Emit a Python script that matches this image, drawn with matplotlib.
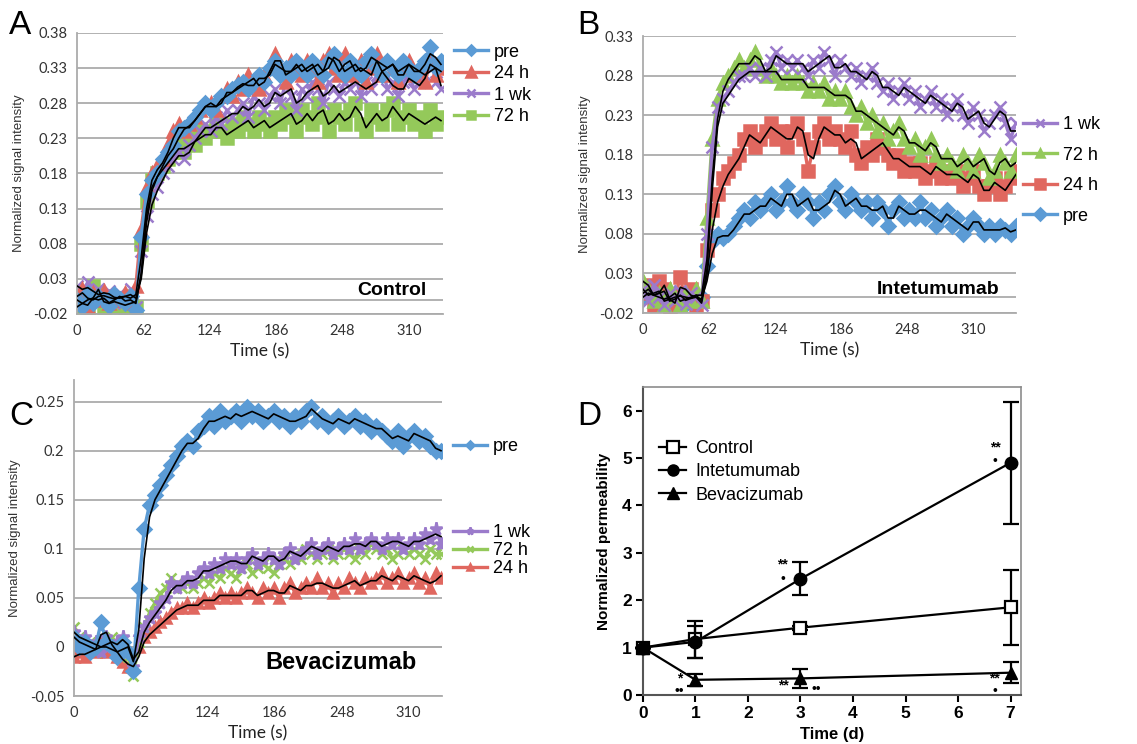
import numpy as np
import pandas as pd
import matplotlib
matplotlib.use('Agg')
import matplotlib.pyplot as plt
from matplotlib.lines import Line2D

plt.rcParams['font.family'] = ['Liberation Sans', 'DejaVu Sans']

STEP = 5  # seconds between samples

# ---- Panel A: Control ----
a_pre = [0.000, -0.010, 0.010, -0.005, 0.005, 0.000, -0.008, 0.008, 0.002, -0.005, 0.005, -0.015,
         0.09, 0.15, 0.17, 0.18, 0.20, 0.21, 0.22, 0.24, 0.245, 0.25,
         0.26, 0.27, 0.28, 0.27, 0.28, 0.29, 0.29, 0.30, 0.305, 0.31,
         0.30, 0.31, 0.32, 0.31, 0.33, 0.34, 0.32, 0.33, 0.32, 0.34,
         0.33, 0.32, 0.34, 0.33, 0.32, 0.34, 0.35, 0.33, 0.32, 0.34,
         0.33, 0.32, 0.34, 0.35, 0.33, 0.32, 0.34, 0.33, 0.32, 0.34,
         0.33, 0.32, 0.33, 0.34, 0.36, 0.33, 0.34]
a_24h = [0.005, 0.015, -0.010, 0.010, 0.000, 0.012, -0.005, 0.008, 0.000, 0.010, -0.005, 0.020,
         0.10, 0.16, 0.18, 0.19, 0.20, 0.22, 0.24, 0.25, 0.24, 0.25,
         0.26, 0.27, 0.28, 0.28, 0.27, 0.29, 0.30, 0.29, 0.31, 0.30,
         0.32, 0.31, 0.30, 0.32, 0.33, 0.35, 0.33, 0.31, 0.34, 0.33,
         0.32, 0.34, 0.33, 0.31, 0.34, 0.35, 0.33, 0.32, 0.35, 0.33,
         0.32, 0.34, 0.31, 0.33, 0.35, 0.32, 0.34, 0.33, 0.31, 0.33,
         0.34, 0.32, 0.33, 0.31, 0.34, 0.32, 0.33]
a_1wk = [0.020, 0.010, 0.025, 0.000, 0.015, 0.005, 0.012, -0.005, 0.010, 0.000, 0.015, -0.010,
         0.07, 0.12, 0.15, 0.16, 0.18, 0.19, 0.20, 0.21, 0.20, 0.22,
         0.23, 0.24, 0.25, 0.24, 0.26, 0.25, 0.27, 0.26, 0.27, 0.28,
         0.26, 0.29, 0.28, 0.27, 0.29, 0.30, 0.28, 0.31, 0.29, 0.27,
         0.30, 0.29, 0.31, 0.30, 0.28, 0.31, 0.30, 0.29, 0.31, 0.30,
         0.32, 0.29, 0.31, 0.30, 0.32, 0.33, 0.30, 0.31, 0.29, 0.31,
         0.32, 0.30, 0.31, 0.32, 0.35, 0.31, 0.30]
a_72h = [-0.010, 0.000, -0.015, 0.020, 0.010, -0.015, 0.005, -0.010, 0.000, -0.015, 0.005, -0.010,
         0.08, 0.14, 0.17, 0.18, 0.19, 0.20, 0.21, 0.22, 0.21, 0.23,
         0.22, 0.24, 0.23, 0.24, 0.25, 0.24, 0.23, 0.25, 0.24, 0.26,
         0.25, 0.24, 0.26, 0.25, 0.24, 0.26, 0.25, 0.27, 0.26, 0.24,
         0.27, 0.26, 0.25, 0.28, 0.26, 0.24, 0.27, 0.26, 0.25, 0.27,
         0.28, 0.25, 0.24, 0.27, 0.26, 0.25, 0.27, 0.28, 0.25, 0.26,
         0.27, 0.25, 0.26, 0.24, 0.27, 0.25, 0.26]

# ---- Panel B: Intetumumab ----
b_1wk = [0.010, -0.005, 0.015, 0.000, -0.010, 0.005, -0.005, 0.008, -0.008, 0.005, 0.000, -0.010,
         0.08, 0.19, 0.24, 0.25, 0.26, 0.27, 0.28, 0.28, 0.29, 0.28,
         0.29, 0.28, 0.30, 0.31, 0.29, 0.30, 0.29, 0.30, 0.29, 0.28,
         0.30, 0.29, 0.31, 0.30, 0.28, 0.30, 0.29, 0.28, 0.29, 0.27,
         0.28, 0.29, 0.27, 0.26, 0.27, 0.25, 0.26, 0.27, 0.25, 0.26,
         0.24, 0.25, 0.26, 0.24, 0.25, 0.23, 0.24, 0.25, 0.23, 0.22,
         0.24, 0.23, 0.21, 0.22, 0.23, 0.24, 0.22, 0.20, 0.22]
b_72h = [0.020, 0.010, -0.005, 0.005, -0.010, 0.010, 0.000, -0.010, 0.005, -0.005, 0.010, -0.005,
         0.10, 0.20, 0.25, 0.27, 0.28, 0.29, 0.30, 0.29, 0.30, 0.31,
         0.29, 0.28, 0.29, 0.28, 0.27, 0.28, 0.27, 0.28, 0.27, 0.26,
         0.27, 0.26, 0.27, 0.25, 0.26, 0.25, 0.26, 0.24, 0.23, 0.24,
         0.22, 0.23, 0.21, 0.22, 0.20, 0.21, 0.22, 0.20, 0.19, 0.20,
         0.18, 0.19, 0.20, 0.18, 0.17, 0.18, 0.17, 0.16, 0.18, 0.17,
         0.16, 0.18, 0.17, 0.15, 0.16, 0.18, 0.17, 0.16, 0.18]
b_24h = [0.005, 0.015, -0.010, 0.020, 0.010, -0.015, 0.000, 0.025, -0.005, 0.010, -0.010, -0.005,
         0.06, 0.11, 0.13, 0.15, 0.16, 0.17, 0.18, 0.20, 0.21, 0.19,
         0.20, 0.21, 0.22, 0.20, 0.21, 0.19, 0.21, 0.22, 0.20, 0.16,
         0.19, 0.21, 0.22, 0.20, 0.21, 0.20, 0.19, 0.21, 0.18, 0.17,
         0.19, 0.18, 0.20, 0.19, 0.18, 0.17, 0.18, 0.16, 0.17, 0.16,
         0.17, 0.15, 0.16, 0.17, 0.15, 0.16, 0.15, 0.16, 0.14, 0.15,
         0.16, 0.14, 0.13, 0.14, 0.15, 0.13, 0.14, 0.15, 0.16]
b_pre = [0.000, 0.010, -0.005, 0.015, 0.000, -0.010, 0.005, 0.000, -0.008, 0.005, -0.005, 0.000,
         0.04, 0.07, 0.08, 0.075, 0.08, 0.09, 0.10, 0.11, 0.10, 0.12,
         0.11, 0.12, 0.13, 0.11, 0.12, 0.14, 0.12, 0.11, 0.13, 0.12,
         0.10, 0.12, 0.11, 0.13, 0.14, 0.12, 0.11, 0.13, 0.12, 0.11,
         0.12, 0.10, 0.12, 0.11, 0.09, 0.11, 0.12, 0.10, 0.11, 0.10,
         0.12, 0.10, 0.11, 0.09, 0.10, 0.11, 0.09, 0.10, 0.08, 0.09,
         0.10, 0.09, 0.08, 0.09, 0.08, 0.09, 0.085, 0.08, 0.09]

# ---- Panel C: Bevacizumab ----
c_pre = [0.010, 0.000, 0.005, -0.005, 0.000, 0.025, 0.005, 0.000, -0.010, 0.005, -0.005, -0.025,
         0.06, 0.12, 0.145, 0.155, 0.165, 0.175, 0.185, 0.195, 0.205, 0.21,
         0.205, 0.22, 0.225, 0.235, 0.225, 0.24, 0.23, 0.235, 0.24, 0.23,
         0.245, 0.235, 0.24, 0.23, 0.235, 0.24, 0.23, 0.235, 0.225, 0.235,
         0.23, 0.24, 0.245, 0.23, 0.235, 0.225, 0.23, 0.235, 0.225, 0.23,
         0.235, 0.225, 0.23, 0.22, 0.225, 0.22, 0.215, 0.21, 0.22, 0.205,
         0.215, 0.22, 0.21, 0.215, 0.205, 0.20, 0.20]
c_1wk = [0.015, 0.005, 0.010, 0.000, 0.005, -0.005, 0.010, 0.000, 0.005, 0.010, -0.005, -0.020,
         0.010, 0.020, 0.030, 0.035, 0.045, 0.050, 0.065, 0.060, 0.065, 0.070,
         0.065, 0.075, 0.080, 0.075, 0.085, 0.080, 0.090, 0.085, 0.090, 0.080,
         0.090, 0.095, 0.085, 0.090, 0.095, 0.090, 0.085, 0.095, 0.100, 0.090,
         0.095, 0.100, 0.105, 0.095, 0.100, 0.105, 0.095, 0.100, 0.105, 0.100,
         0.110, 0.100, 0.105, 0.110, 0.105, 0.100, 0.110, 0.105, 0.110, 0.100,
         0.105, 0.110, 0.105, 0.115, 0.110, 0.120, 0.105]
c_72h = [0.020, 0.010, 0.000, 0.005, -0.005, 0.005, 0.000, 0.010, -0.005, 0.000, -0.010, -0.030,
         0.005, 0.020, 0.035, 0.045, 0.055, 0.060, 0.070, 0.065, 0.060, 0.065,
         0.060, 0.065, 0.070, 0.065, 0.075, 0.070, 0.080, 0.075, 0.070, 0.080,
         0.085, 0.075, 0.080, 0.085, 0.080, 0.075, 0.085, 0.090, 0.085, 0.095,
         0.090, 0.100, 0.095, 0.090, 0.095, 0.100, 0.090, 0.095, 0.100, 0.095,
         0.090, 0.100, 0.095, 0.105, 0.100, 0.095, 0.100, 0.090, 0.095, 0.100,
         0.095, 0.100, 0.095, 0.090, 0.100, 0.095, 0.095]
c_24h = [-0.010, -0.005, -0.010, 0.000, -0.005, 0.005, -0.005, 0.000, -0.010, -0.015, -0.020, -0.020,
         0.000, 0.010, 0.015, 0.020, 0.025, 0.030, 0.035, 0.040, 0.040, 0.045,
         0.040, 0.045, 0.050, 0.045, 0.050, 0.055, 0.050, 0.055, 0.050, 0.055,
         0.060, 0.055, 0.050, 0.060, 0.055, 0.060, 0.050, 0.060, 0.065, 0.055,
         0.060, 0.065, 0.060, 0.070, 0.060, 0.065, 0.055, 0.065, 0.060, 0.070,
         0.065, 0.060, 0.070, 0.065, 0.070, 0.075, 0.065, 0.070, 0.075, 0.065,
         0.070, 0.075, 0.065, 0.070, 0.060, 0.075, 0.070]

# ---- Panel D: permeability ----
days = [0, 1, 3, 7]
ctrl_mean = [1.0, 1.18, 1.42, 1.85]
ctrl_err = [0.0, 0.39, 0.04, 0.79]
inte_mean = [1.0, 1.12, 2.45, 4.90]
inte_err = [0.0, 0.33, 0.35, 1.29]
beva_mean = [1.0, 0.32, 0.35, 0.47]
beva_err = [0.0, 0.13, 0.20, 0.22]

BLUE = '#5B9BD5'
RED = '#E0675F'
PURPLE = '#9B7BCB'
GREEN = '#94C95A'
GRID = '#ABABAB'
TICKFONT = ['Lato', 'DejaVu Sans']


def draw_traces(ax, series, smoothed):
    for label, vals, color, marker, ms in series:
        t = np.arange(len(vals)) * STEP
        ax.plot(t, vals, color=color, marker=marker, ms=ms, lw=2.4,
                mec=color, mew=1.8, label=label, zorder=2)
    for vals in smoothed:
        t = np.arange(len(vals)) * STEP
        sm = pd.Series(vals).rolling(2, min_periods=1).mean()
        ax.plot(t, sm, color='black', lw=1.2, zorder=3)


def style_excel(ax, ylim, yticks, ylabels, xmax, tag):
    ax.set_xlim(0, xmax)
    ax.set_ylim(*ylim)
    ax.set_yticks(yticks)
    ax.set_yticklabels(ylabels, family=TICKFONT)
    ax.set_xticks([0, 62, 124, 186, 248, 310])
    ax.set_xticklabels(['0', '62', '124', '186', '248', '310'], family=TICKFONT)
    ax.grid(axis='y', color=GRID, lw=1.3)
    ax.set_axisbelow(True)
    ax.axhline(0, color=GRID, lw=1.3, zorder=0)
    for s in ['top', 'right']:
        ax.spines[s].set_visible(False)
    for s in ['left', 'bottom']:
        ax.spines[s].set_color(GRID)
        ax.spines[s].set_linewidth(1.3)
    ax.tick_params(length=0, labelsize=10.5, colors='#333333', pad=7)
    ax.set_xlabel('Time (s)', family=TICKFONT, fontsize=12.5, color='#222222', labelpad=4)
    ax.set_ylabel('Normalized signal intensity', fontsize=9.5, color='#333333', labelpad=6)
    ax.text(0.955, 0.055, tag, transform=ax.transAxes, ha='right', va='bottom',
            fontsize=14, fontweight='bold')


fig = plt.figure(figsize=(11.37, 7.44), dpi=100)

# A
axA = fig.add_axes([0.0677, 0.578, 0.322, 0.378])
draw_traces(axA, [('72 h', a_72h, GREEN, 's', 8),
                  ('1 wk', a_1wk, PURPLE, 'x', 8),
                  ('24 h', a_24h, RED, '^', 8.5),
                  ('pre', a_pre, BLUE, 'D', 7)],
            [a_72h, a_1wk, a_pre, a_24h])
style_excel(axA, (-0.02, 0.38), np.arange(-0.02, 0.381, 0.05),
            ['-0.02', '0.03', '0.08', '0.13', '0.18', '0.23', '0.28', '0.33', '0.38'], 342, 'Control')
h, l = axA.get_legend_handles_labels()
order = [3, 2, 1, 0]
axA.legend([h[i] for i in order], [l[i] for i in order], loc='upper left',
           bbox_to_anchor=(1.0, 1.0), frameon=False, fontsize=13, labelspacing=0.25,
           handlelength=1.9, handletextpad=0.3, borderaxespad=0.2, markerscale=0.8)

# B
axB = fig.add_axes([0.5655, 0.5793, 0.328, 0.3723])
draw_traces(axB, [('pre', b_pre, BLUE, 'D', 7.5),
                  ('24 h', b_24h, RED, 's', 9),
                  ('72 h', b_72h, GREEN, '^', 8.5),
                  ('1 wk', b_1wk, PURPLE, 'x', 8.5)],
            [b_pre, b_24h, b_72h, b_1wk])
style_excel(axB, (-0.02, 0.33), np.arange(-0.02, 0.331, 0.05),
            ['-0.02', '0.03', '0.08', '0.13', '0.18', '0.23', '0.28', '0.33'], 350, 'Intetumumab')
h, l = axB.get_legend_handles_labels()
axB.legend(h[::-1], l[::-1], loc='upper left', bbox_to_anchor=(0.99, 0.75),
           frameon=False, fontsize=13, labelspacing=0.75,
           handlelength=1.9, handletextpad=0.3, borderaxespad=0.2, markerscale=0.75)

# C
axC = fig.add_axes([0.0651, 0.0645, 0.3237, 0.4247])
draw_traces(axC, [('24 h', c_24h, RED, '^', 7.5),
                  ('72 h', c_72h, GREEN, 'x', 7),
                  ('1 wk', c_1wk, PURPLE, '*', 9.5),
                  ('pre', c_pre, BLUE, 'D', 7)],
            [c_24h, c_1wk, c_pre])
style_excel(axC, (-0.05, 0.272), np.arange(-0.05, 0.251, 0.05),
            ['-0.05', '0', '0.05', '0.1', '0.15', '0.2', '0.25'], 341, '')
axC.text(0.93, 0.07, 'Bevacizumab', transform=axC.transAxes, ha='right', va='bottom',
         fontsize=17, fontweight='bold')
h, l = axC.get_legend_handles_labels()
leg1 = axC.legend([h[3]], [l[3]], loc='center left', bbox_to_anchor=(1.0, 0.79),
                  frameon=False, fontsize=13, handlelength=1.9, handletextpad=0.3,
                  borderaxespad=0.2, markerscale=0.55)
axC.add_artist(leg1)
axC.legend([h[2], h[1], h[0]], [l[2], l[1], l[0]], loc='center left',
           bbox_to_anchor=(1.0, 0.46), frameon=False, fontsize=13, labelspacing=0.05,
           handlelength=1.9, handletextpad=0.3, borderaxespad=0.2, markerscale=0.55)

# D
axD = fig.add_axes([0.5655, 0.0659, 0.3325, 0.414])
ebkw = dict(color='black', lw=1.6, elinewidth=1.6, capsize=6, capthick=1.6, clip_on=False)
axD.errorbar(days, ctrl_mean, yerr=ctrl_err, marker='s', ms=9, mfc='white',
             mew=1.6, zorder=3, **ebkw)
axD.errorbar(days, beva_mean, yerr=beva_err, marker='^', ms=9, mfc='black', zorder=4, **ebkw)
axD.errorbar(days, inte_mean, yerr=inte_err, marker='o', ms=9, mfc='black', zorder=4, **ebkw)
axD.set_xlim(0, 7.2)
axD.set_ylim(0, 6.5)
axD.set_xticks(range(0, 8))
axD.set_yticks(range(0, 7))
for s in ['top', 'right']:
    axD.spines[s].set_color('#8C8C8C')
    axD.spines[s].set_linewidth(1.2)
for s in ['left', 'bottom']:
    axD.spines[s].set_color('#555555')
    axD.spines[s].set_linewidth(1.5)
axD.tick_params(direction='out', length=5, width=1.5, labelsize=12.5, pad=3)
for lab in axD.get_xticklabels() + axD.get_yticklabels():
    lab.set_fontweight('bold')
axD.set_xlabel('Time (d)', fontsize=12, fontweight='bold', labelpad=4)
axD.set_ylabel('Normalized permeability', fontsize=11, fontweight='bold', labelpad=8)
leg_handles = [Line2D([], [], color='black', lw=1.6, marker='s', ms=8, mfc='white', mew=1.6),
               Line2D([], [], color='black', lw=1.6, marker='o', ms=8, mfc='black'),
               Line2D([], [], color='black', lw=1.6, marker='^', ms=8, mfc='black')]
axD.legend(leg_handles, ['Control', 'Intetumumab', 'Bevacizumab'], loc='upper left',
           bbox_to_anchor=(0.0, 0.88), frameon=False, fontsize=13, labelspacing=0.35,
           handlelength=1.5, handletextpad=0.5)

# significance marks
star_kw = dict(ha='center', va='bottom', fontsize=10, fontweight='bold')
dot_kw = dict(ha='center', va='center', fontsize=10)
axD.text(0.70, 0.20, '*', **star_kw)
axD.text(0.70, 0.08, '\u2022\u2022', **dot_kw)
axD.text(2.68, 0.06, '**', **star_kw)
axD.text(3.30, 0.12, '\u2022\u2022', **dot_kw)
axD.text(6.70, 0.20, '**', **star_kw)
axD.text(6.70, 0.08, '\u2022', **dot_kw)
axD.text(2.66, 2.60, '**', **star_kw)
axD.text(2.66, 2.45, '\u2022', **dot_kw)
axD.text(6.71, 5.08, '**', **star_kw)
axD.text(6.71, 4.93, '\u2022', **dot_kw)

# panel letters
for x, y, letter in [(0.008, 0.945, 'A'), (0.508, 0.945, 'B'),
                     (0.008, 0.42, 'C'), (0.508, 0.42, 'D')]:
    fig.text(x, y, letter, fontsize=24, va='bottom')

fig.savefig('out.png', dpi=100)
